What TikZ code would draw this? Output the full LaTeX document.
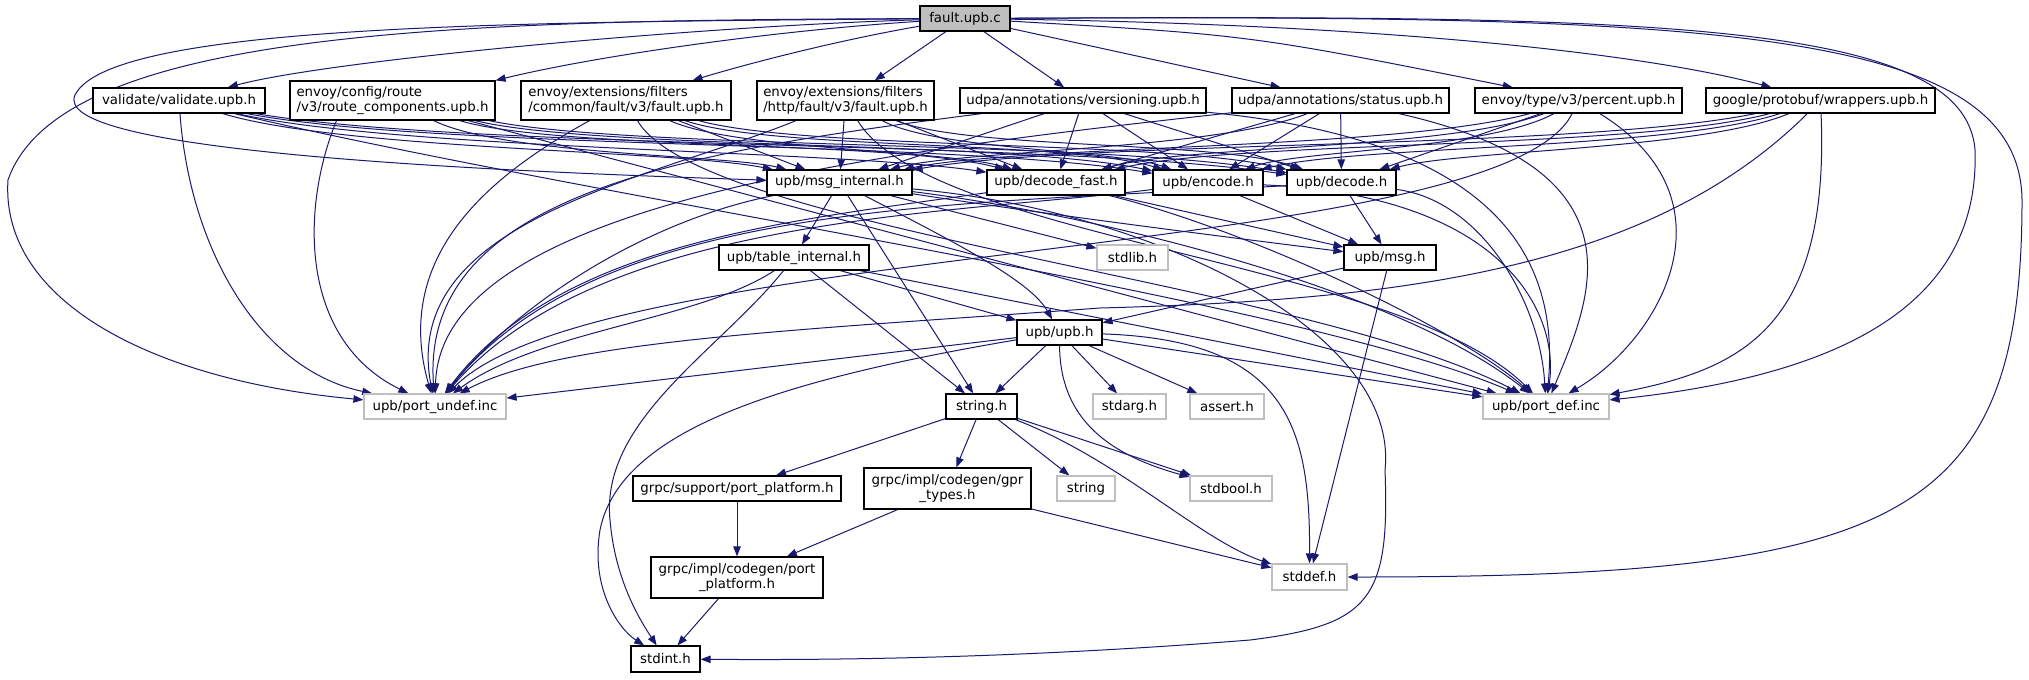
\documentclass[tikz,border=0pt]{standalone}
\usepackage{fontspec}
\setmainfont{DejaVu Sans}
\usetikzlibrary{arrows.meta}
\pgfdeclarelayer{bg}
\pgfsetlayers{bg,main}
\definecolor{edgec}{HTML}{191970}
\definecolor{greyc}{HTML}{BFBFBF}
\tikzset{
  nd/.style={draw=black, line width=0.9pt, fill=white, inner sep=0pt, text=black,
    font=\fontsize{10pt}{11.5pt}\selectfont},
  ud/.style={nd, draw=greyc},
  sz/.style 2 args={minimum width=#1*0.75pt, minimum height=#2*0.75pt},
  e/.style={draw=edgec, line width=0.75pt, -{Triangle[length=7.5pt,width=5.6pt]}},
}
\begin{document}
\begin{tikzpicture}[x=0.75pt,y=-0.75pt]
\useasboundingbox (0,0) rectangle (2029,679);

% ---- nodes ----
\node[nd, fill=greyc, sz={90}{25}] (fault) at (965,18.5) {fault.upb.c};
\node[nd, sz={172}{25}] (val) at (179,100.5) {validate/validate.upb.h};
\node[nd, sz={205}{39}, align=left] (route) at (392.5,100.5) {envoy/config/route\\/v3/route\_components.upb.h};
\node[nd, sz={210}{39}, align=left] (common) at (626,100.5) {envoy/extensions/filters\\/common/fault/v3/fault.upb.h};
\node[nd, sz={177}{39}, align=left] (http) at (845.5,100.5) {envoy/extensions/filters\\/http/fault/v3/fault.upb.h};
\node[nd, sz={246}{25}] (vers) at (1083,100.5) {udpa/annotations/versioning.upb.h};
\node[nd, sz={217}{25}] (status) at (1340.5,100.5) {udpa/annotations/status.upb.h};
\node[nd, sz={207}{25}] (perc) at (1578.5,100.5) {envoy/type/v3/percent.upb.h};
\node[nd, sz={229}{25}] (wrap) at (1820.5,100.5) {google/protobuf/wrappers.upb.h};

\node[nd, sz={145}{25}] (mi) at (839.5,182.5) {upb/msg\_internal.h};
\node[nd, sz={138}{25}] (df) at (1056,182.5) {upb/decode\_fast.h};
\node[nd, sz={110}{25}] (enc) at (1208,182.5) {upb/encode.h};
\node[nd, sz={109}{25}] (dec) at (1341.5,182.5) {upb/decode.h};

\node[nd, sz={150}{25}] (ti) at (794,257.5) {upb/table\_internal.h};
\node[ud, sz={71}{25}] (stdlib) at (1132.5,257.5) {stdlib.h};
\node[nd, sz={92}{25}] (msg) at (1390,257.5) {upb/msg.h};

\node[nd, sz={85}{25}] (upb) at (1059.5,332.5) {upb/upb.h};

\node[ud, sz={142}{25}] (pu) at (435,406.5) {upb/port\_undef.inc};
\node[nd, sz={71}{25}] (str) at (981.5,406.5) {string.h};
\node[ud, sz={73}{25}] (stdarg) at (1129.5,406.5) {stdarg.h};
\node[ud, sz={74}{25}] (assert) at (1227,406.5) {assert.h};
\node[ud, sz={126}{25}] (pd) at (1546,406.5) {upb/port\_def.inc};

\node[nd, sz={208}{25}] (gsp) at (737,488.5) {grpc/support/port\_platform.h};
\node[nd, sz={167}{41}, align=center] (gpr) at (947.5,488.5) {grpc/impl/codegen/gpr\\\_types.h};
\node[ud, sz={58}{25}] (string) at (1086,488.5) {string};
\node[ud, sz={82}{25}] (stdbool) at (1231,488.5) {stdbool.h};

\node[nd, sz={172}{41}, align=center] (gpp) at (737,577.5) {grpc/impl/codegen/port\\\_platform.h};
\node[ud, sz={75}{26}] (stddef) at (1309.5,577) {stddef.h};

\node[nd, sz={69}{26}] (stdint) at (665.5,659) {stdint.h};

% ---- edges ----
\begin{pgfonlayer}{bg}
\fill[white] (0,0) rectangle (2029,679);
% fault.upb.c
\draw[e] (fault) .. controls (700,26) and (330,60) .. (val);
\draw[e] (fault) .. controls (780,30) and (600,55) .. (route.north east);
\draw[e] (fault) .. controls (850,38) and (760,60) .. (common);
\draw[e] (fault) -- (http);
\draw[e] (fault) -- (vers);
\draw[e] (fault) -- (status);
\draw[e] (fault) .. controls (1250,35) .. (perc);
\draw[e] (fault) .. controls (1400,25) and (1650,55) .. (wrap);
\draw[e] (fault) .. controls (450,20) and (60,30) .. (8,180) .. controls (0,300) and (150,380) .. (pu);
\draw[e] (fault) .. controls (500,22) and (110,25) .. (75,95) .. controls (50,150) and (450,170) .. (mi);
\draw[e] (fault) .. controls (1650,15) and (1965,20) .. (1975,150) .. controls (1980,300) and (1850,375) .. (pd);
\draw[e] (fault) .. controls (1700,15) and (2020,25) .. (2022,200) .. controls (2022,520) and (1900,577) .. (stddef);

% validate
\draw[e] (val) .. controls (344,150) and (674,150) .. (mi);
\draw[e] (val) .. controls (398,150) and (837,150) .. (df);
\draw[e] (val) .. controls (436,150) and (951,140) .. (enc);
\draw[e] (val) .. controls (470,150) and (1051,140) .. (dec);
\draw[e] (val) .. controls (190,250) and (260,370) .. (pu);
\draw[e] (val) .. controls (600,200) and (1300,300) .. (pd);

% route_components
\draw[e] (route) .. controls (504,155) and (728,155) .. (mi);
\draw[e] (route) .. controls (558,150) and (890,140) .. (df);
\draw[e] (route) .. controls (596,150) and (1004,140) .. (enc);
\draw[e] (route) .. controls (630,150) and (1104,140) .. (dec);
\draw[e] ([xshift=-42pt]route.south) .. controls (300,210) and (300,340) .. (pu);
\draw[e] (route) -- (pd);

% common fault
\draw[e] (common) -- (mi);
\draw[e] (common) .. controls (734,150) and (948,150) .. (df);
\draw[e] (common) .. controls (771,150) and (1062,140) .. (enc);
\draw[e] (common) .. controls (805,150) and (1163,140) .. (dec);
\draw[e] (common) .. controls (500,170) and (390,250) .. (pu);
\draw[e] (common) .. controls (700,230) and (1300,280) .. (pd);

% http fault
\draw[e] (http) -- (mi);
\draw[e] (http) -- (df);
\draw[e] (http) .. controls (936,150) and (1117,150) .. (enc);
\draw[e] (http) .. controls (970,150) and (1217,140) .. (dec);
\draw[e] (http) .. controls (650,180) and (400,220) .. (pu);
\draw[e] (http) .. controls (930,240) and (1400,260) .. (pd);

% versioning
\draw[e] (vers) -- (mi);
\draw[e] (vers) -- (df);
\draw[e] (vers) -- (enc);
\draw[e] (vers) -- (dec);
\draw[e] (vers) .. controls (700,150) and (420,190) .. (pu);
\draw[e] (vers) .. controls (1500,140) and (1560,260) .. (pd);

% status
\draw[e] (status) .. controls (1215,150) and (965,150) .. (mi);
\draw[e] (status) -- (df);
\draw[e] (status) -- (enc);
\draw[e] (status) -- (dec);
\draw[e] (status) .. controls (900,150) and (440,200) .. (pu);
\draw[e] (status) .. controls (1650,170) and (1590,300) .. (pd);

% percent
\draw[e] (perc) .. controls (1394,150) and (1024,145) .. (mi);
\draw[e] (perc) .. controls (1448,150) and (1187,145) .. (df);
\draw[e] (perc) .. controls (1486,150) and (1300,150) .. (enc);
\draw[e] (perc) -- (dec);
\draw[e] (perc) .. controls (1500,260) and (600,240) .. (pu);
\draw[e] (perc) .. controls (1740,200) and (1660,340) .. (pd);

% wrappers
\draw[e] (wrap) .. controls (1575,150) and (1085,140) .. (mi);
\draw[e] (wrap) .. controls (1629,150) and (1247,140) .. (df);
\draw[e] (wrap) .. controls (1667,150) and (1361,145) .. (enc);
\draw[e] (wrap) .. controls (1701,150) and (1461,150) .. (dec);
\draw[e] (wrap) .. controls (1650,270) and (1400,300) .. (1100,308) .. controls (800,330) and (560,340) .. (pu);
\draw[e] (wrap) .. controls (1830,330) and (1740,370) .. (pd);

% msg_internal
\draw[e] (mi) -- (ti);
\draw[e] (mi) -- (stdlib);
\draw[e] (mi) .. controls (1050,215) and (1250,240) .. (msg);
\draw[e] (mi) .. controls (950,240) and (1030,280) .. (upb);
\draw[e] (mi) -- (str);
\draw[e] (mi) .. controls (1100,215) and (1400,290) .. (pd);
\draw[e] (mi) .. controls (650,220) and (520,300) .. (pu);
\draw[e] (mi) .. controls (1150,210) and (1400,330) .. (1385,470) .. controls (1390,600) and (1370,625) .. (1250,640) .. controls (1000,660) and (800,660) .. (stdint);

% decode_fast, encode, decode
\draw[e] (df) -- (msg);
\draw[e] (df) .. controls (1250,230) and (1460,330) .. (pd);
\draw[e] (df) .. controls (800,220) and (560,240) .. (pu);
\draw[e] (enc) -- (msg);
\draw[e] (enc) .. controls (1500,195) and (1560,310) .. (pd);
\draw[e] (enc) .. controls (950,215) and (600,215) .. (pu);
\draw[e] (dec) -- (msg);
\draw[e] (dec) .. controls (1480,200) and (1540,300) .. (pd);
\draw[e] (dec) .. controls (950,205) and (600,200) .. (pu);

% table_internal
\draw[e] (ti) .. controls (720,350) and (600,420) .. (610,520) .. controls (615,580) and (640,620) .. (stdint);
\draw[e] (ti) -- (str);
\draw[e] (ti) -- (upb);
\draw[e] (ti) -- (pd);
\draw[e] (ti) .. controls (700,320) and (540,330) .. (pu);

% msg
\draw[e] (msg) -- (upb);
\draw[e] (msg) -- (stddef);

% upb
\draw[e] (upb) -- (pu);
\draw[e] (upb) .. controls (780,380) and (620,430) .. (600,530) .. controls (590,590) and (620,630) .. (stdint);
\draw[e] (upb) -- (str);
\draw[e] (upb) -- (stdarg);
\draw[e] (upb) -- (assert);
\draw[e] (upb) .. controls (1060,420) and (1110,455) .. (stdbool);
\draw[e] (upb) .. controls (1290,340) and (1310,430) .. (stddef);
\draw[e] (upb) -- (pd);

% string.h
\draw[e] (str) -- (gsp);
\draw[e] (str) -- (gpr);
\draw[e] (str) -- (string);
\draw[e] (str) -- (stdbool);
\draw[e] (str) .. controls (1120,460) and (1200,540) .. (stddef);

% grpc
\draw[e] (gpr) -- (gpp);
\draw[e] (gpr) -- (stddef);
\draw[e] (gsp) -- (gpp);
\draw[e] (gpp) -- (stdint);
\end{pgfonlayer}
\end{tikzpicture}
\end{document}
